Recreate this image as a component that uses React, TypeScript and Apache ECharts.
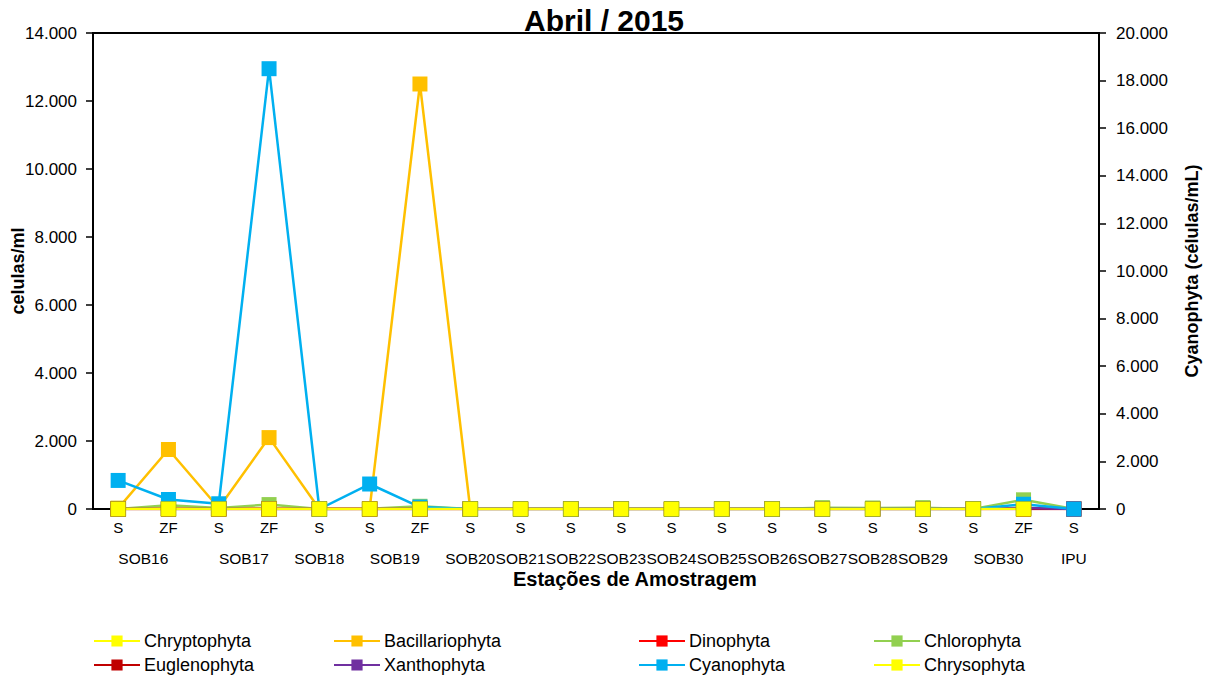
import React, { useEffect, useRef } from "react";
import * as echarts from "echarts";

const categories = ["S", "ZF", "S", "ZF", "S", "S", "ZF", "S", "S", "S", "S", "S", "S", "S", "S", "S", "S", "S", "ZF", "S"];
const stations = ["SOB16", "SOB16", "SOB17", "SOB17", "SOB18", "SOB19", "SOB19", "SOB20", "SOB21", "SOB22", "SOB23", "SOB24", "SOB25", "SOB26", "SOB27", "SOB28", "SOB29", "SOB30", "SOB30", "IPU"];

const chryptophyta = [10, 10, 10, 10, 0, 0, 10, 0, 0, 0, 0, 0, 0, 0, 0, 0, 0, 0, 10, null];
const bacillariophyta = [20, 1750, 30, 2100, 0, 10, 12500, 0, 0, 0, 0, 0, 0, 0, 0, 0, 0, 0, 30, 0];
const dinophyta = [0, 0, 0, 0, 0, 0, 0, 0, 0, 0, 0, 0, 0, 0, 0, 0, 0, 0, 0, 0];
const chlorophyta = [0, 110, 30, 130, 0, 10, 80, 0, 0, 0, 0, 0, 0, 0, 40, 30, 40, 0, 270, 0];
const euglenophyta = [0, 0, 0, 0, 0, 0, 0, 0, 0, 0, 0, 0, 0, 0, 0, 0, 0, 0, 0, 0];
const xanthophyta = [0, 0, 0, 0, 0, 0, 0, 0, 0, 0, 0, 0, 0, 0, 0, 0, 0, 0, 30, 0];
const cyanophyta = [1200, 400, 220, 18500, 0, 1050, 80, 0, 0, 0, 0, 0, 0, 0, 0, 0, 0, 0, 200, 0];
const chrysophyta = [0, 0, 0, 0, 0, 0, 0, 0, 0, 0, 0, 0, 0, 0, 0, 0, 0, 0, 0, null];

const leftTicks = { min: 0, max: 14000, interval: 2000 };
const rightTicks = { min: 0, max: 20000, interval: 2000 };

const FONT = "'Liberation Sans', Arial, sans-serif";

const fmt = (v: number) => Math.round(v).toString().replace(/\B(?=(\d{3})+(?!\d))/g, ".");

export default function App() {
  const ref = useRef<HTMLDivElement>(null);
  useEffect(() => {
    document.body.style.margin = "0";
    if (!ref.current) return;
    const chart = echarts.init(ref.current, undefined, { renderer: "svg" });

    // group labels on a 41-point axis (band edges and centers)
    const groupAxis: string[] = new Array(categories.length * 2 + 1).fill("");
    let i = 0;
    while (i < stations.length) {
      let j = i;
      while (j + 1 < stations.length && stations[j + 1] === stations[i]) j++;
      groupAxis[i + j + 1] = stations[i];
      i = j + 1;
    }

    const seriesDefs: [string, (number | null)[], string, number, string?][] = [
      ["Chryptophyta", chryptophyta, "#FFFF00", 0, "rgba(170,170,0,0.5)"],
      ["Bacillariophyta", bacillariophyta, "#FFC000", 0],
      ["Dinophyta", dinophyta, "#FF0000", 0],
      ["Chlorophyta", chlorophyta, "#92D050", 0],
      ["Euglenophyta", euglenophyta, "#C00000", 0],
      ["Xanthophyta", xanthophyta, "#7030A0", 0],
      ["Cyanophyta", cyanophyta, "#00B0F0", 1],
      ["Chrysophyta", chrysophyta, "#FFFF00", 0, "rgba(170,170,0,0.5)"],
    ];

    const series = seriesDefs.map(([name, data, color, yIdx, border]) => ({
      name,
      type: "line",
      data,
      yAxisIndex: yIdx,
      xAxisIndex: 0,
      symbol: "rect",
      symbolSize: 15,
      connectNulls: false,
      lineStyle: { color, width: 2.5 },
      itemStyle: { color, borderColor: border || color, borderWidth: border ? 1 : 0 },
      emphasis: { disabled: true },
    }));

    const names = seriesDefs.map((s) => s[0]);
    const colLeft = [93, 333, 638, 873];
    const legends = colLeft.map((x, c) => ({
      orient: "vertical",
      left: x,
      top: 632,
      itemWidth: 46,
      itemHeight: 14,
      itemGap: 6,
      padding: 0,
      selectedMode: false,
      itemStyle: { borderWidth: 0 },
      textStyle: { fontFamily: FONT, fontSize: 18, color: "#000", padding: [0, 0, 0, -1] },
      data: [names[c], names[c + 4]],
    }));

    chart.setOption({
      animation: false,
      backgroundColor: "#fff",
      title: {
        text: "Abril / 2015",
        left: 604,
        top: 5,
        textAlign: "center",
        padding: 0,
        textStyle: { fontFamily: FONT, fontSize: 30, fontWeight: "bold", color: "#000" },
        z: 10,
      },
      legend: legends,
      grid: {
        left: 93,
        right: 113,
        top: 33,
        bottom: 171,
        containLabel: false,
        outerBoundsMode: "none",
        show: true,
        borderColor: "#000",
        borderWidth: 2,
        backgroundColor: "transparent",
      },
      xAxis: [
        {
          type: "category",
          data: categories,
          boundaryGap: true,
          axisLine: { show: true, lineStyle: { color: "#000", width: 2 } },
          axisTick: { show: false },
          axisLabel: { interval: 0, fontFamily: FONT, fontSize: 15, color: "#000", margin: 11 },
          splitLine: { show: false },
        },
        {
          type: "category",
          data: groupAxis,
          boundaryGap: false,
          position: "bottom",
          axisLine: { show: false },
          axisTick: { show: false },
          axisLabel: { interval: 0, fontFamily: FONT, fontSize: 15.5, color: "#000", margin: 41 },
          splitLine: { show: false },
        },
      ],
      yAxis: [
        {
          type: "value",
          ...leftTicks,
          position: "left",
          name: "celulas/ml",
          nameLocation: "middle",
          nameGap: 66,
          nameMoveOverlap: false,
          nameTextStyle: { fontFamily: FONT, fontSize: 18, fontWeight: "bold", color: "#000" },
          axisLine: { show: true, lineStyle: { color: "#000", width: 2 } },
          axisTick: { show: true, inside: false, length: 7, lineStyle: { color: "#000", width: 1.5 } },
          axisLabel: { fontFamily: FONT, fontSize: 17, color: "#000", margin: 16, formatter: fmt },
          splitLine: { show: false },
        },
        {
          type: "value",
          ...rightTicks,
          position: "right",
          name: "Cyanophyta (células/mL)",
          nameLocation: "middle",
          nameGap: 84,
          nameRotate: 90,
          nameMoveOverlap: false,
          nameTextStyle: { fontFamily: FONT, fontSize: 18, fontWeight: "bold", color: "#000" },
          axisLine: { show: true, lineStyle: { color: "#000", width: 2 } },
          axisTick: { show: true, inside: false, length: 7, lineStyle: { color: "#000", width: 1.5 } },
          axisLabel: { fontFamily: FONT, fontSize: 17, color: "#000", margin: 17, formatter: fmt },
          splitLine: { show: false },
        },
      ],
      graphic: [
        {
          type: "text",
          left: 513,
          top: 569,
          style: {
            text: "Estações de Amostragem",
            fontFamily: FONT,
            fontSize: 20,
            fontWeight: "bold",
            fill: "#000",
          },
        },
      ],
      series,
    });
    return () => chart.dispose();
  }, []);
  return <div ref={ref} style={{ width: 1212, height: 680 }} />;
}
